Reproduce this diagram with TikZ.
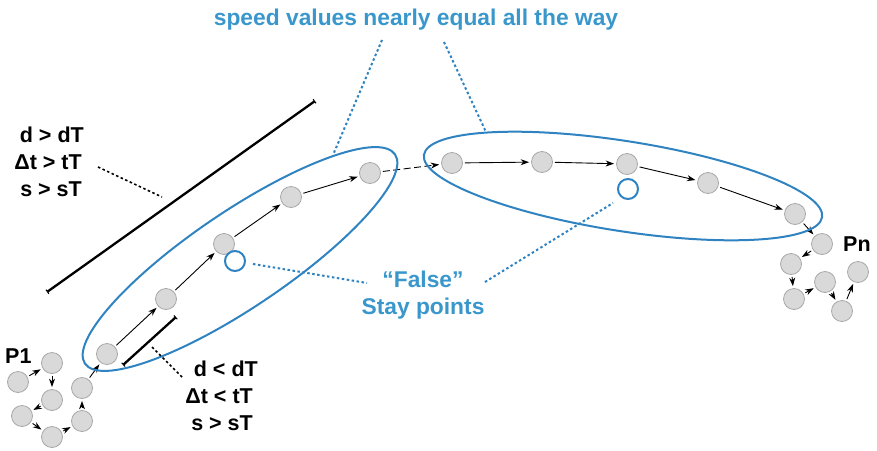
\documentclass[tikz,border=0pt]{standalone}
\usepackage{fontspec}
\setmainfont{Liberation Sans}
\usetikzlibrary{arrows.meta,shapes.geometric}
\definecolor{ptfill}{HTML}{D9D9D9}
\definecolor{ptdraw}{HTML}{A8A8A8}
\definecolor{zoneblue}{HTML}{2F83C0}
\definecolor{textblue}{HTML}{3A97CC}
\tikzset{
  pt/.style={circle, fill=ptfill, draw=ptdraw, line width=0.8pt, minimum size=21pt, inner sep=0pt},
  falsept/.style={circle, draw=zoneblue, line width=2pt, minimum size=20pt, inner sep=0pt},
  hop/.style={-{Stealth[length=8.5pt,width=6pt]}, line width=0.9pt, shorten <=2pt, shorten >=2pt},
  jump/.style={hop, dash pattern=on 7pt off 3.5pt},
  zone/.style={ellipse, draw=zoneblue, line width=2pt, inner sep=0pt},
  bigrule/.style={line width=2.3pt, {Bar[width=5pt,line width=1pt]}-{Bar[width=5pt,line width=1pt]}},
  blackdots/.style={line width=1.6pt, dash pattern=on 2.5pt off 2.5pt},
  bluedots/.style={draw=zoneblue, line width=2pt, dash pattern=on 2.5pt off 2.5pt},
  lab/.style={font=\bfseries\fontsize{21.5}{27}\selectfont, inner sep=0pt, anchor=base east},
  bluelab/.style={font=\bfseries\fontsize{22.8}{27}\selectfont, text=textblue, inner sep=0pt, anchor=base}
}
\begin{document}
\begin{tikzpicture}[x=1pt,y=-1pt]
\useasboundingbox (0,0) rectangle (877,450);

% trajectory points
\node[pt] (a1) at (18,382) {};
\node[pt] (a2) at (52,363) {};
\node[pt] (a3) at (52,400) {};
\node[pt] (a4) at (22,416) {};
\node[pt] (a5) at (52,437) {};
\node[pt] (a6) at (82,421) {};
\node[pt] (a7) at (82,388) {};
\node[pt] (a8) at (107,354) {};
\node[pt] (b1) at (166,299) {};
\node[pt] (b2) at (224,244) {};
\node[pt] (b3) at (291,197) {};
\node[pt] (b4) at (370,173) {};
\node[pt] (c1) at (452,163) {};
\node[pt] (c2) at (542,162) {};
\node[pt] (c3) at (627,164) {};
\node[pt] (c4) at (708,183) {};
\node[pt] (c5) at (795,214) {};
\node[pt] (d1) at (822,244) {};
\node[pt] (d2) at (791,264) {};
\node[pt] (d3) at (794,299) {};
\node[pt] (d4) at (825,282) {};
\node[pt] (d5) at (842,311) {};
\node[pt] (d6) at (858,272) {};

% "false" stay points
\node[falsept] (f1) at (235,261) {};
\node[falsept] (f2) at (628,189) {};

% movement arrows
\draw[hop] (a1) -- (a2);
\draw[hop] (a2) -- (a3);
\draw[hop] (a3) -- (a4);
\draw[hop] (a4) -- (a5);
\draw[hop] (a5) -- (a6);
\draw[hop] (a6) -- (a7);
\draw[hop] (a7) -- (a8);
\draw[hop] (a8) -- (b1);
\draw[hop] (b1) -- (b2);
\draw[hop] (b2) -- (b3);
\draw[hop] (b3) -- (b4);
\draw[jump] (b4) -- (c1);
\draw[hop] (c1) -- (c2);
\draw[hop] (c2) -- (c3);
\draw[hop] (c3) -- (c4);
\draw[hop] (c4) -- (c5);
\draw[hop] (c5) -- (d1);
\draw[hop] (d1) -- (d2);
\draw[hop] (d2) -- (d3);
\draw[hop] (d3) -- (d4);
\draw[hop] (d4) -- (d5);
\draw[hop] (d5) -- (d6);

% grouping ellipses
\node[zone, minimum width=374pt, minimum height=96pt, rotate=34] (z1) at (240,259) {};
\node[zone, minimum width=403pt, minimum height=90pt, rotate=-8.9] (z2) at (623,186) {};

% distance rulers
\coordinate (r1) at (47,292);
\coordinate (r2) at (315,101);
\coordinate (s1) at (123,365);
\coordinate (s2) at (176,317);
\draw[bigrule] (r1) -- (r2);
\draw[bigrule] (s1) -- (s2);

% threshold labels
\node[lab] (u1) at (84,142) {d > dT};
\node[lab] (u2) at (82,169) {Δt > tT};
\node[lab] (u3) at (82,196) {s > sT};
\node[lab] (l1) at (258,376) {d < dT};
\node[lab] (l2) at (253,403) {Δt < tT};
\node[lab] (l3) at (253,430) {s > sT};

\coordinate (p1) at (98,167);
\coordinate (p2) at (162,197);
\coordinate (q1) at (152,347);
\coordinate (q2) at (183,378);
\draw[blackdots] (p1) -- (p2);
\draw[blackdots] (q1) -- (q2);

% endpoint labels
\node[lab, anchor=base west] (start) at (5,363) {P1};
\node[lab, anchor=base west] (end) at (843,251) {Pn};

% blue annotations
\node[bluelab] (title) at (416,25) {speed values nearly equal all the way};
\node[bluelab] (fl1) at (423,287) {“False”};
\node[bluelab] (fl2) at (423,314) {Stay points};

\coordinate (t1) at (382,40);
\coordinate (t2) at (333,155);
\coordinate (t3) at (444,42);
\coordinate (t4) at (486,132);
\draw[bluedots] (t1) -- (t2);
\draw[bluedots] (t3) -- (t4);
\coordinate (g0) at (253,264);
\coordinate (g1) at (367,283);
\coordinate (g2) at (485,282);
\coordinate (g3) at (613,203);
\draw[bluedots] (g0) -- (g1);
\draw[bluedots] (g2) -- (g3);
\end{tikzpicture}
\end{document}
